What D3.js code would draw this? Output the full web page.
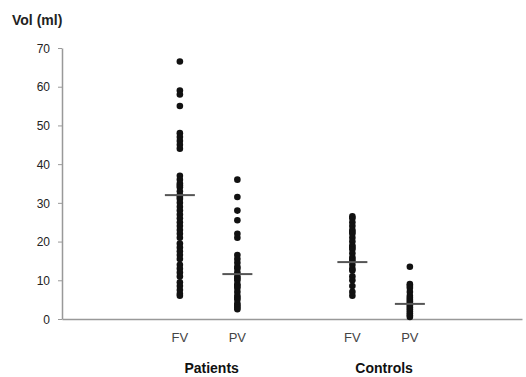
<!DOCTYPE html>
<html>
<head>
<meta charset="utf-8">
<script src="https://cdn.jsdelivr.net/npm/d3@7"></script>
<style>
  body { margin: 0; background: #fff; }
  svg { display: block; font-family: "Liberation Sans", Arial, sans-serif; }
</style>
</head>
<body>
<svg id="drawing_region"></svg>
<script>
var Groups = ['Patients', 'Controls'];
var Columns = ['FV', 'PV', 'FV', 'PV'];
var ColumnGroup = [0, 0, 1, 1];
var ColumnPos = [2, 3, 5, 6];
var YTicks = [0, 10, 20, 30, 40, 50, 60, 70];

var PatientsFV = [66.5, 59, 58, 55, 48, 47, 46, 45, 44, 37, 36, 35, 34.5, 34, 33, 32, 31.5, 31, 30, 29, 28, 27, 26, 25, 24, 23, 22, 21, 19.5, 18.5, 17.5, 16.5, 15.5, 14, 13, 12, 11, 9.5, 8.5, 7.5, 6.5, 6];
var PatientsPV = [36, 31.5, 28, 25.5, 22, 21, 16.5, 15.5, 14.5, 13.5, 13, 12, 11, 10.5, 10, 9, 8.5, 8, 7, 6, 5.5, 5, 4, 3.5, 3, 2.5];
var ControlsFV = [26.5, 26, 25, 24, 23, 22.5, 22, 21, 20, 19, 18.5, 18, 17, 16, 15.5, 15, 14, 13, 12.5, 11, 10, 8.5, 7, 6];
var ControlsPV = [13.5, 9, 8.5, 8, 7, 6, 5.5, 5, 4.5, 4, 3.5, 3, 2.5, 2, 1.5, 1, 0.5];
var Means = [32, 11.6, 14.7, 3.9];

var Series = [PatientsFV, PatientsPV, ControlsFV, ControlsPV];

var Config = {
    parent: '#drawing_region',
    width: 526,
    height: 377
};

var svg = d3.select(Config.parent)
    .attr('width', Config.width)
    .attr('height', Config.height);

var xscale = d3.scaleLinear()
    .domain([-0.05, 7.95])
    .range([62, 522]);

var yscale = d3.scaleLinear()
    .domain([0, 70])
    .range([319, 48]);

// y axis
var yaxis = d3.axisLeft(yscale)
    .tickValues(YTicks)
    .tickSize(4)
    .tickSizeOuter(0)
    .tickPadding(8);

var yg = svg.append('g')
    .attr('transform', 'translate(62,0)')
    .call(yaxis);
yg.select('.domain').attr('stroke', '#999').attr('stroke-width', 1.5);
yg.selectAll('.tick line').attr('stroke', '#999');
yg.selectAll('.tick text')
    .attr('fill', '#222')
    .style('font-size', '12px')
    .attr('dy', '0.35em');

// x axis, no ticks
var xaxis = d3.axisBottom(xscale)
    .tickValues([])
    .tickSizeOuter(0);

var xg = svg.append('g')
    .attr('transform', 'translate(0,319)')
    .call(xaxis);
xg.select('.domain').attr('stroke', '#999').attr('stroke-width', 1.5);

svg.append('text')
    .attr('x', 12)
    .attr('y', 25)
    .attr('font-size', '14px')
    .attr('font-weight', 'bold')
    .attr('fill', '#222')
    .text('Vol (ml)');

// dots
var points = [];
Series.forEach(function(s, i) {
    s.forEach(function(v) { points.push({ col: i, v: v }); });
});

svg.append('g').selectAll('circle')
    .data(points)
    .join('circle')
    .attr('cx', d => xscale(ColumnPos[d.col]))
    .attr('cy', d => yscale(d.v))
    .attr('r', 3.3)
    .attr('fill', '#111');

// mean bars, drawn over the dots
svg.append('g').selectAll('line')
    .data(Means)
    .join('line')
    .attr('x1', (d, i) => xscale(ColumnPos[i]) - 15)
    .attr('x2', (d, i) => xscale(ColumnPos[i]) + 15)
    .attr('y1', d => yscale(d))
    .attr('y2', d => yscale(d))
    .attr('stroke', '#555')
    .attr('stroke-width', 2);

// column labels
svg.append('g').selectAll('text')
    .data(Columns)
    .join('text')
    .attr('x', (d, i) => xscale(ColumnPos[i]))
    .attr('y', 342)
    .attr('text-anchor', 'middle')
    .attr('font-size', '13px')
    .attr('fill', '#444')
    .text(d => d);

// group labels
svg.append('g').selectAll('text')
    .data(Groups)
    .join('text')
    .attr('x', (d, g) => {
        var pos = ColumnPos.filter((p, i) => ColumnGroup[i] === g);
        return xscale(d3.mean(pos)) + 3;
    })
    .attr('y', 373)
    .attr('text-anchor', 'middle')
    .attr('font-size', '14px')
    .attr('font-weight', 'bold')
    .attr('fill', '#111')
    .text(d => d);
</script>
</body>
</html>
